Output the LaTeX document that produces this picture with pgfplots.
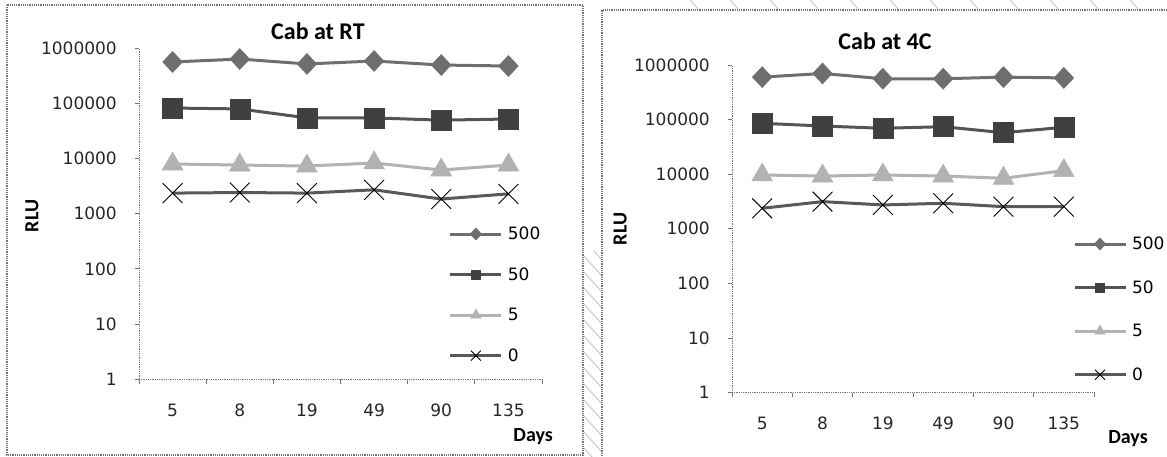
\documentclass[border=0pt]{standalone}
\usepackage{pgfplots}
\pgfplotsset{compat=1.18}
\usepackage{fontspec}
\setmainfont{DejaVu Sans}
\newfontfamily\carlito{Carlito}

\definecolor{cA}{gray}{0.43}
\definecolor{cB}{gray}{0.25}
\definecolor{cBl}{gray}{0.33}
\definecolor{cC}{gray}{0.70}
\definecolor{cD}{gray}{0.35}
\definecolor{axc}{gray}{0.45}

\pgfplotsset{/pgf/number format/assume math mode=true}

\newcommand{\legimg}[1]{\draw[mark repeat=2,mark phase=2,mark size=#1] plot coordinates {(0pt,0pt) (25.5pt,0pt) (51pt,0pt)};}

\begin{document}
\begin{tikzpicture}[x=1pt,y=1pt]
\path[use as bounding box] (0,0) rectangle (1167,456);
% panel frames
\draw[axc, densely dotted, line width=1.2pt] (7,451) rectangle (583,1);
\draw[axc, densely dotted, line width=1.2pt] (602,0) -- (602,446) -- (1167,446);
% hatching between / above panels
\begin{scope}
  \clip (584,0) rectangle (601,205);
  \foreach \i in {8,24,...,230} {\draw[gray!55, line width=0.7pt] (584,\i) -- ++(17,-19);}
\end{scope}
\begin{scope}
  \clip (680,447) rectangle (1167,456);
  \foreach \i in {690,730,...,1170} {\draw[gray!55, line width=0.7pt] (\i,456) -- ++(9,-10);}
\end{scope}

% ---------- Left panel: Cab at RT ----------
\begin{axis}[
  scale only axis,
  at={(139pt,77pt)}, anchor=south west,
  width=403pt, height=330.5pt,
  ymode=log, log basis y=10,
  ymin=1, ymax=1000000,
  xmin=-0.5, xmax=5.5,
  xtick={0,1,2,3,4,5}, xticklabels={5,8,19,49,90,135},
  minor xtick={-0.5,0.5,1.5,2.5,3.5,4.5,5.5},
  ytick={1,10,100,1000,10000,100000,1000000},
  yticklabels={1,10,100,1000,10000,100000,1000000},
  axis x line*=bottom, axis y line*=left,
  axis line style={-, axc, densely dotted, line width=0.8pt},
  tick align=outside, major tick length=4pt, minor tick length=5pt,
  tick style={axc, line width=0.8pt},
  major x tick style={draw=none},
  tick label style={font=\fontsize{17}{20}\selectfont, text=black!85},
  xticklabel style={anchor=center, yshift=-27pt},
  yticklabel style={anchor=east, inner sep=0pt, xshift=-18pt},
  title={Cab at RT},
  title style={font=\carlito\bfseries\fontsize{24}{28}\selectfont, anchor=base, at={(0.444,1)}, yshift=3.5pt},
  xlabel={Days},
  xlabel style={font=\carlito\bfseries\fontsize{20}{24}\selectfont, anchor=center, at={(axis description cs:0.978,-0.1755)}},
  ylabel={RLU},
  ylabel style={font=\carlito\bfseries\fontsize{20}{24}\selectfont, anchor=center, at={(axis description cs:-0.2655,0.493)}},
  legend cell align=left,
  legend style={draw=none, fill=none, inner sep=0pt, outer sep=0pt,
    font=\fontsize{17}{20}\selectfont, column sep=3pt,
    at={(0.769,0.466)}, anchor=north west, row sep=22.5pt},
]
\addplot[color=cA, line width=3pt, mark=diamond*, mark size=10.5pt, mark options={solid, xscale=1.25, line width=0.5pt}, legend image code/.code={\legimg{6pt}}]
  coordinates {(0,569000) (1,644000) (2,524000) (3,593000) (4,501000) (5,481000)};
\addlegendentry{500}
\addplot[color=cBl, line width=3pt, mark=square*, mark size=10pt, mark options={solid, fill=cB, draw=cB, line width=0.5pt}, legend image code/.code={\legimg{4.5pt}}]
  coordinates {(0,83000) (1,80000) (2,55000) (3,55000) (4,50000) (5,52500)};
\addlegendentry{50}
\addplot[color=cC, line width=3pt, mark=triangle*, mark size=12pt, mark options={solid, line width=0.5pt}, legend image code/.code={\legimg{6pt}}]
  coordinates {(0,8000) (1,7660) (2,7340) (3,8350) (4,6220) (5,7660)};
\addlegendentry{5}
\addplot[color=cD, line width=3pt, mark=x, mark size=14pt, mark options={solid, draw=black, line width=0.9pt}, legend image code/.code={\legimg{7pt}}]
  coordinates {(0,2370) (1,2430) (2,2370) (3,2720) (4,1850) (5,2300)};
\addlegendentry{0}
\end{axis}

% ---------- Right panel: Cab at 4C ----------
\begin{axis}[
  scale only axis,
  at={(732pt,63.5pt)}, anchor=south west,
  width=362pt, height=327.5pt,
  ymode=log, log basis y=10,
  ymin=1, ymax=1000000,
  xmin=-0.5, xmax=5.5,
  xtick={0,1,2,3,4,5}, xticklabels={5,8,19,49,90,135},
  minor xtick={-0.5,0.5,1.5,2.5,3.5,4.5,5.5},
  ytick={1,10,100,1000,10000,100000,1000000},
  yticklabels={1,10,100,1000,10000,100000,1000000},
  axis x line*=bottom, axis y line*=left,
  axis line style={-, axc, densely dotted, line width=0.8pt},
  tick align=outside, major tick length=4pt, minor tick length=5pt,
  tick style={axc, line width=0.8pt},
  major x tick style={draw=none},
  tick label style={font=\fontsize{17}{20}\selectfont, text=black!85},
  xticklabel style={anchor=center, yshift=-27pt},
  yticklabel style={anchor=east, inner sep=0pt, xshift=-18pt},
  title={Cab at 4C},
  title style={font=\carlito\bfseries\fontsize{24}{28}\selectfont, anchor=base, at={(0.4227,1)}, yshift=10pt},
  xlabel={Days},
  xlabel style={font=\carlito\bfseries\fontsize{20}{24}\selectfont, anchor=center, at={(axis description cs:1.094,-0.1405)}},
  ylabel={RLU},
  ylabel style={font=\carlito\bfseries\fontsize{20}{24}\selectfont, anchor=center, at={(axis description cs:-0.309,0.499)}},
  legend cell align=left,
  legend style={draw=none, fill=none, inner sep=0pt, outer sep=0pt,
    font=\fontsize{17}{20}\selectfont, column sep=3pt,
    at={(0.942,0.481)}, anchor=north west, row sep=25.5pt},
]
\addplot[color=cA, line width=3pt, mark=diamond*, mark size=10.5pt, mark options={solid, xscale=1.25, line width=0.5pt}, legend image code/.code={\legimg{6pt}}]
  coordinates {(0,600000) (1,700000) (2,560000) (3,560000) (4,600000) (5,580000)};
\addlegendentry{500}
\addplot[color=cBl, line width=3pt, mark=square*, mark size=10pt, mark options={solid, fill=cB, draw=cB, line width=0.5pt}, legend image code/.code={\legimg{4.5pt}}]
  coordinates {(0,85500) (1,76300) (2,69300) (3,74100) (4,57500) (5,72300)};
\addlegendentry{50}
\addplot[color=cC, line width=3pt, mark=triangle*, mark size=12pt, mark options={solid, line width=0.5pt}, legend image code/.code={\legimg{6pt}}]
  coordinates {(0,9660) (1,9250) (2,9660) (3,9250) (4,8410) (5,11600)};
\addlegendentry{5}
\addplot[color=cD, line width=3pt, mark=x, mark size=14pt, mark options={solid, draw=black, line width=0.9pt}, legend image code/.code={\legimg{7pt}}]
  coordinates {(0,2370) (1,3140) (2,2730) (3,2930) (4,2540) (5,2540)};
\addlegendentry{0}
\end{axis}
\end{tikzpicture}
\end{document}
